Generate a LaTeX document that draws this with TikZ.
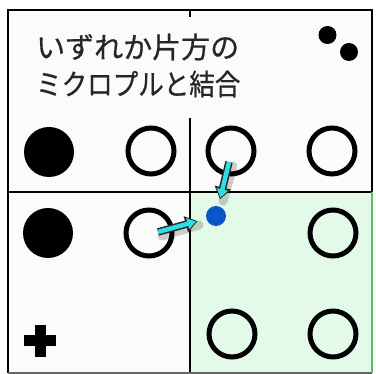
\documentclass[tikz,border=0pt]{standalone}
\usepackage{fontspec}
\newfontfamily\jpfont[FakeBold=0.6]{Noto Sans CJK JP}
\usetikzlibrary{arrows.meta}
\definecolor{bgwhite}{HTML}{FBFBFB}
\definecolor{lightgreen}{HTML}{E3FAE8}
\definecolor{edgegreen}{HTML}{5DBB6A}
\definecolor{arrowcyan}{HTML}{2EDDE6}
\definecolor{dotblue}{HTML}{0A56C9}
\tikzset{
  fullball/.style={circle, fill=black, minimum size=50pt, inner sep=0pt},
  ring/.style={circle, draw=black, line width=5pt, minimum size=46pt, inner sep=0pt},
  smalldot/.style={circle, fill=black, minimum size=18pt, inner sep=0pt},
  bluedot/.style={circle, fill=dotblue, minimum size=20pt, inner sep=0pt},
  gridline/.style={draw=black, line width=1.4pt},
  jptext/.style={font=\jpfont\fontsize{29}{29}\selectfont, text=black!85, inner sep=0pt, anchor=west},
  arrowshadow/.style={draw=black, opacity=0.18, line width=9pt, line cap=round},
  arrowout/.style={draw=black!85, line width=7.5pt, -{Triangle[length=12pt,width=16pt]}},
  arrowin/.style={draw=arrowcyan, line width=4.5pt, -{Triangle[length=8.5pt,width=11pt]}, shorten >=1.6pt},
}
\begin{document}
\begin{tikzpicture}[x=1pt,y=-1pt]
\useasboundingbox (0,0) rectangle (376,374);
% panels
\fill[bgwhite] (8,10) rectangle (372,373);
\fill[lightgreen] (190,192) rectangle (372,373);
% grid
\draw[gridline] (8,192) -- (372,192);
\draw[gridline] (190,10) -- (190,373);
% text background
\fill[bgwhite] (14,17) rectangle (262,118);
% outer border
\draw[draw=black, line width=2pt] (8,373) -- (8,10) -- (372,10) -- (372,192);
\draw[draw=black!60, line width=1.2pt] (8,373) -- (372,373);
\draw[draw=edgegreen, line width=2pt] (372,192) -- (372,373);
% text
\node[jptext] (t1) at (36,47) {いずれか片方の};
\node[jptext, xscale=0.88, transform shape] (t2) at (36,84) {ミクロプルと結合};
% dots top right
\node[smalldot] (d1) at (327.5,35) {};
\node[smalldot] (d2) at (349,52) {};
% row 1
\node[fullball] (f1) at (49,152) {};
\node[ring] (r11) at (151,151) {};
\node[ring] (r12) at (231,151) {};
\node[ring] (r13) at (332,151) {};
% row 2
\node[fullball] (f2) at (48,233) {};
\node[ring] (r21) at (149,233) {};
\node[ring] (r22) at (333,233) {};
% row 3
\node[ring] (r31) at (232,334) {};
\node[ring] (r32) at (333,334) {};
% plus
\node[fill=black, minimum width=32pt, minimum height=11pt, inner sep=0pt] (px) at (40,341) {};
\node[fill=black, minimum width=11pt, minimum height=32pt, inner sep=0pt] (py) at (40,341) {};
% blue dot
\node[bluedot] (bd) at (216,216) {};
% arrows
\coordinate (s1) at (229,162);
\coordinate (s2) at (158,232);
\draw[arrowshadow] ([shift={(4,4)}]s1) -- ([shift={(4,4)}]219,197);
\draw[arrowshadow] ([shift={(4,4)}]s2) -- ([shift={(4,4)}]195,221);
\draw[arrowout, shorten >=7pt] (s1) -- (bd);
\draw[arrowin, shorten >=8.6pt] (s1) -- (bd);
\draw[arrowout, shorten >=9pt] (s2) -- (bd);
\draw[arrowin, shorten >=10.6pt] (s2) -- (bd);
\end{tikzpicture}
\end{document}
